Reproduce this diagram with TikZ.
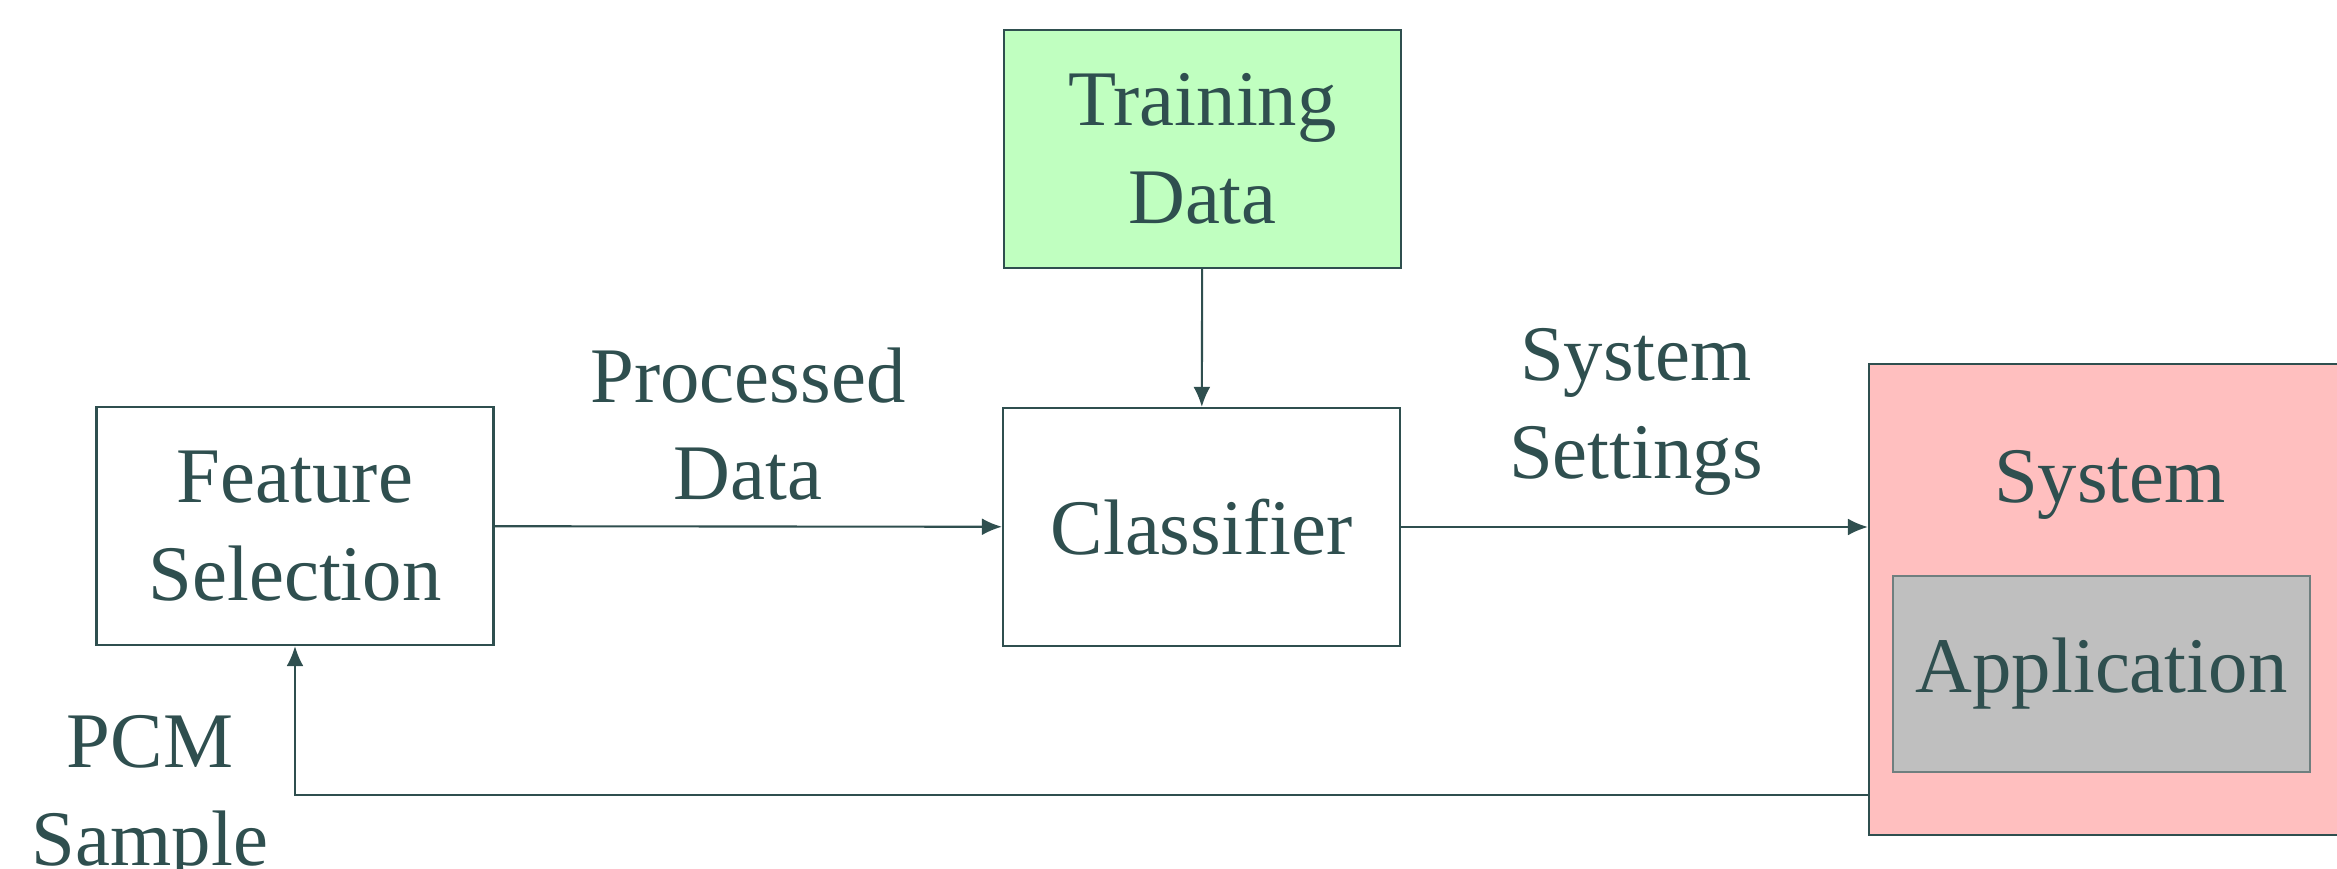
\documentclass[tikz,border=0pt]{standalone}
\usepackage{fontspec}
\setmainfont{Liberation Serif}
\usetikzlibrary{arrows.meta}
\usetikzlibrary{positioning}
\definecolor{ink}{HTML}{2F4F4F}
\definecolor{traingreen}{HTML}{C0FFC0}
\definecolor{syspink}{HTML}{FFBFBF}
\definecolor{appgray}{HTML}{BFBFBF}
\definecolor{appedge}{HTML}{6F7F7F}

\begin{document}
\begin{tikzpicture}[
    every node/.style={text=ink, font=\fontsize{22.4}{27.8}\selectfont, align=center},
    block/.style={rectangle, draw=ink, line width=0.6pt, minimum width=3.97cm, minimum height=2.38cm, text centered},
    arrow/.style={-{Latex[length=5.7pt,width=4.8pt]}, draw=ink, line width=0.6pt},
    ]
    \path [use as bounding box, clip] (0,0) rectangle (23.37,-8.69);

    % Feature selection
    \node [block] (feat) at (2.95,-5.26) {Feature\\Selection};

    % Classifier
    \node [block] (clf) at (12.015,-5.27) {Classifier};

    % Training data
    \node [block, fill=traingreen] (train) at (12.025,-1.49) {Training\\Data};
    \draw [arrow] (train) -- (clf);

    % System with the application inside
    \node [block, fill=syspink, minimum width=4.82cm, minimum height=4.71cm] (system) at (21.1,-5.995) {};
    \node (systitle) at (21.1,-4.85) {System};
    \node [block, fill=appgray, draw=appedge, minimum width=4.17cm, minimum height=1.96cm] (app) at (21.015,-6.74) {\raisebox{-0.06cm}{Application}};

    % Forward path
    \draw [arrow] (feat) -- (clf);
    \draw [arrow] (clf.east) -- (clf.east -| system.west);

    % Feedback from the system
    \draw [arrow] ([yshift=-1.955cm]system.west) -| (feat.south);

    % Labels
    \node (procd) at (7.48,-4.24) {Processed\\Data};
    \node (sets) at (16.36,-4.12) {System\\Settings};
    \node (pcm) at (1.50,-7.99) {PCM\\Sample};

\end{tikzpicture}
\end{document}
